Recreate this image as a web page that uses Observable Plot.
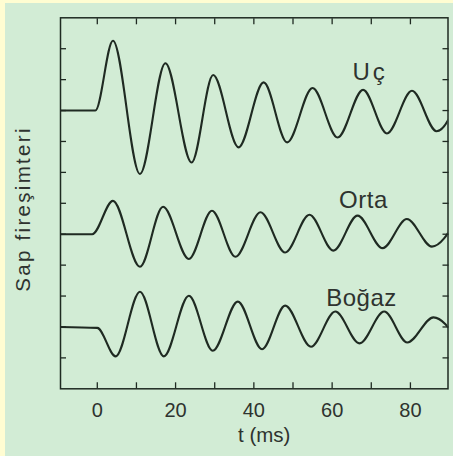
<!DOCTYPE html>
<html>
<head>
<meta charset="utf-8">
<script src="https://cdn.jsdelivr.net/npm/d3@7"></script>
<script src="https://cdn.jsdelivr.net/npm/@observablehq/plot@0.6"></script>
<style>
  html, body { margin: 0; padding: 0; background: #fffdd2; }
  #panel { position: absolute; left: 5px; top: 3px; width: 448px; height: 453px; background: #d2ecd5; }
  #panel svg { background: transparent; display: block; }
</style>
</head>
<body>
<div id="panel"></div>
<script>
// ---- data (time in ms, signal in tick units) ----
const seriesNames = ["Uç", "Orta", "Boğaz"];

const ucT = [-9.4, -0.5, 4.0, 10.9, 17.4, 24.1, 29.6, 36.1, 42.5, 48.5, 55.0, 61.4, 67.9, 74.0, 80.4, 86.7, 92.9];
const ucV = [9.0, 9.0, 11.26, 6.95, 10.53, 7.32, 10.15, 7.81, 9.91, 7.97, 9.73, 8.13, 9.67, 8.26, 9.64, 8.33, 9.6];

const ortaT = [-9.4, -1.3, 4.0, 10.9, 16.8, 23.4, 29.3, 35.3, 41.7, 48.0, 54.2, 60.3, 66.5, 72.9, 79.1, 85.5, 91.7];
const ortaV = [5.0, 5.0, 6.08, 3.95, 5.89, 4.2, 5.76, 4.27, 5.71, 4.41, 5.63, 4.47, 5.6, 4.55, 5.49, 4.6, 5.45];

const bogT = [-9.4, 0.0, 4.7, 10.9, 17.0, 23.4, 29.5, 35.9, 42.1, 48.0, 54.6, 60.8, 67.0, 73.3, 79.2, 85.9, 92.0];
const bogV = [2.0, 1.97, 1.05, 3.14, 1.05, 3.01, 1.23, 2.82, 1.28, 2.69, 1.36, 2.5, 1.47, 2.5, 1.5, 2.31, 1.6];

const labelT = [69.7, 68.0, 67.5];
const labelV = [10.25, 6.11, 2.93];

const xTicks = [0, 10, 20, 30, 40, 50, 60, 70, 80];
const xTickLabels = [0, 20, 40, 60, 80];
const yTicks = [1, 2, 3, 4, 5, 6, 7, 8, 9, 10, 11];
const xTitle = "t (ms)";
const yTitle = "Sap fireşimteri";

// ---- build table ----
const rows = [];
[[ucT, ucV], [ortaT, ortaV], [bogT, bogV]].forEach(([T, V], i) => {
  T.forEach((t, j) => rows.push({series: seriesNames[i], t, v: V[j]}));
});
const labels = seriesNames.map((name, i) => ({name, t: labelT[i], v: labelV[i]}));

const ink = "#1f2a22";
const textInk = "#2e332f";
const font = "Liberation Sans, Arial, Helvetica, sans-serif";

const chart = Plot.plot({
  width: 448,
  height: 453,
  marginLeft: 55,
  marginRight: 5.5,
  marginTop: 14.3,
  marginBottom: 67.7,
  style: {fontFamily: font, color: textInk, background: "transparent", overflow: "visible"},
  x: {domain: [-9.4, 89.6]},
  y: {domain: [0, 12]},
  marks: [
    Plot.line(rows, {x: "t", y: "v", z: "series", curve: "monotone-x", stroke: ink, strokeWidth: 2.1, clip: true}),
    Plot.frame({stroke: ink, strokeWidth: 1.5}),
    Plot.axisX(xTicks, {anchor: "bottom", tickSize: 6, dy: -6, tickPadding: 14, strokeWidth: 1.3, stroke: ink,
      tickFormat: d => xTickLabels.includes(d) ? String(d) : "", fontSize: 20, fill: textInk, label: null}),
    Plot.axisX(xTicks, {anchor: "top", tickSize: 6, dy: 6, strokeWidth: 1.3, stroke: ink, tickFormat: () => "", label: null}),
    Plot.axisY(yTicks, {anchor: "left", tickSize: 6, dx: 6, strokeWidth: 1.3, stroke: ink, tickFormat: () => "", label: null}),
    Plot.axisY(yTicks, {anchor: "right", tickSize: 6, dx: -6, strokeWidth: 1.3, stroke: ink, tickFormat: () => "", label: null}),
    Plot.text(labels, {x: "t", y: "v", text: "name", fontSize: 24, fill: textInk, lineAnchor: "middle", textAnchor: "middle"}),
    Plot.text([xTitle], {frameAnchor: "bottom", dy: 46.7, dx: 10, fontSize: 20.5, fill: textInk, lineAnchor: "middle", textAnchor: "middle"}),
    Plot.text([yTitle], {frameAnchor: "left", rotate: -90, dx: -37.5, dy: 5.7, fontSize: 20.5, fill: textInk, lineAnchor: "middle", textAnchor: "middle"})
  ]
});
document.getElementById("panel").appendChild(chart);

// letter spacing tweaks to mimic the original typesetting
d3.select(chart).selectAll("text").each(function() {
  const t = this.textContent;
  if (t === yTitle) this.style.letterSpacing = "2.3px";
  if (t === "Uç") this.style.letterSpacing = "3px";
  else if (seriesNames.includes(t)) this.style.letterSpacing = "0.5px";
});
</script>
</body>
</html>
